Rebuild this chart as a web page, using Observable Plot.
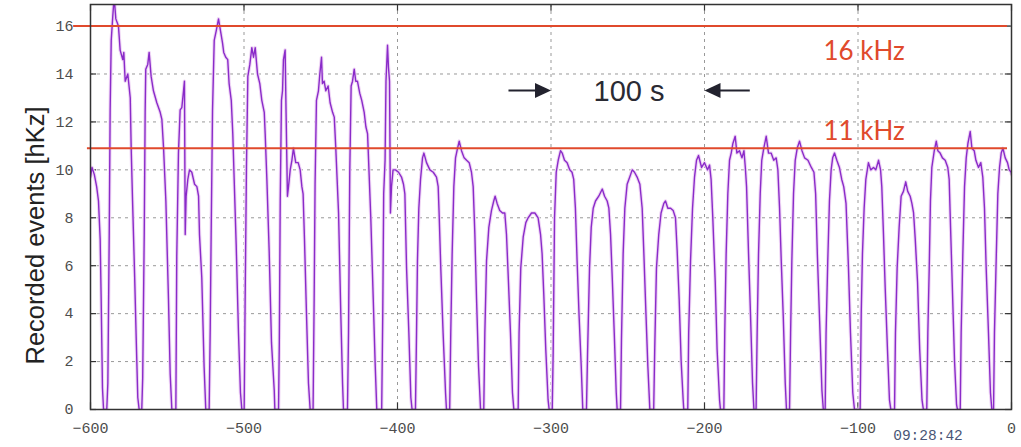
<!DOCTYPE html>
<html>
<head>
<meta charset="utf-8">
<script src="https://cdn.jsdelivr.net/npm/d3@7"></script>
<script src="https://cdn.jsdelivr.net/npm/@observablehq/plot@0.6"></script>
<style>
  html, body { margin: 0; padding: 0; background: #fff; }
  #chart svg { display: block; }
</style>
</head>
<body>
<div id="chart"></div>
<script>
// ---- Data ----
const xTicks = [-600, -500, -400, -300, -200, -100, 0];
const yTicks = [0, 2, 4, 6, 8, 10, 12, 14, 16];
const thresholds = [16, 10.9];
const thresholdLabels = ["16 kHz", "11 kHz"];
const spanLabel = "100 s";
const yLabel = "Recorded events [hKz]";
const timeStamp = "09:28:42";

// [seconds, rate (hKz)] vertices of the recorded trace
const trace = [
  [-600,9.7],[-599,10.1],[-597.5,9.8],[-596,9.3],[-594.8,8.7],[-593.7,7.1],[-593.1,4.8],[-592.2,0.9],[-591.5,0],
  [-589.4,0],[-588.7,1.1],[-587.8,7.3],[-587.2,12.5],[-586.5,15.4],[-585.5,16.4],[-584.6,17.2],[-583.5,16.3],[-581.8,16.0],[-580.7,15.0],[-579,14.6],[-578.3,14.9],[-577.4,13.7],[-575.7,14.0],[-574.1,13.0],[-573.5,10.9],[-572.6,8.7],[-571.3,5.7],[-570.2,2.9],[-569.2,0.5],[-568.3,0],
  [-566.6,0],[-566,1.3],[-565,7.3],[-564.4,12.4],[-564,14.2],[-562.7,14.4],[-561.8,14.9],[-560.5,13.9],[-559,13.3],[-556.8,12.8],[-554.6,12.4],[-553.5,12.1],[-552.4,10.9],[-550.9,8.7],[-549.2,4.6],[-548.1,1.5],[-547,0],
  [-544.4,0],[-543.8,6.4],[-542.7,10.7],[-541.6,12.5],[-540.5,12.6],[-539.4,13.3],[-538.8,13.7],[-538.3,7.3],[-537.7,8.9],[-536.6,9.6],[-535.5,10.0],[-534,9.9],[-532.2,9.4],[-530.7,9.3],[-529.6,8.9],[-529,7.3],[-527.5,5.5],[-526,1.8],[-524.9,0],
  [-522.7,0],[-522,3.4],[-521.4,7.3],[-520.5,12.5],[-519.4,15.4],[-518.1,15.8],[-516.6,16.3],[-515.3,15.8],[-514,15.3],[-513.2,14.9],[-511.9,14.7],[-510.6,14.6],[-509.7,13.6],[-508.3,12.9],[-507.3,11.5],[-506.4,9.6],[-505.1,6.9],[-503.6,3.2],[-502.3,0.7],[-501.4,0],
  [-499.9,0],[-499.3,4.3],[-498.4,10.1],[-497.5,13.9],[-496.2,14.4],[-494.9,15.1],[-493.8,14.7],[-492.7,15.1],[-491.2,14.0],[-489.7,13.6],[-488.4,12.9],[-486.8,12.4],[-486.2,11.5],[-485.1,9.6],[-483.6,6.6],[-482.1,2.8],[-480.3,0.8],[-479.9,0],
  [-477.5,0],[-477,2.8],[-476.4,8.7],[-475.6,12.9],[-474.9,13.3],[-474.3,14.6],[-473.2,15.0],[-472.6,12.4],[-471.7,8.9],[-471,9.3],[-469.9,10.0],[-468.8,10.4],[-467.8,10.9],[-466.3,10.3],[-464.7,10.3],[-463.4,10.0],[-462.3,9.3],[-461.5,9.0],[-460.6,7.1],[-459.3,4.0],[-458,1.1],[-456.9,0],
  [-455,0],[-454.3,4.6],[-453.7,9.4],[-452.8,12.9],[-451.5,13.3],[-450.6,14.0],[-449.5,14.7],[-448.9,13.6],[-447.8,13.7],[-446.7,13.3],[-445.2,13.5],[-443.9,12.8],[-442.3,12.4],[-441.2,12.2],[-440.2,10.9],[-438.4,8.2],[-436.9,3.9],[-435.8,1.1],[-435.2,0],
  [-432.6,0],[-431.9,3.2],[-431.1,9.9],[-430.2,13.5],[-429.3,13.7],[-428.2,14.2],[-427.2,13.7],[-426.1,13.7],[-424.6,13.2],[-423.3,12.9],[-421.7,12.4],[-420.6,11.8],[-419.5,11.5],[-418.9,10.5],[-417.4,8.0],[-415.8,4.6],[-414.5,1.8],[-413.5,0],
  [-410.3,0],[-409.6,4.0],[-409,9.0],[-408.1,10.4],[-407.5,13.7],[-406.5,15.2],[-405.9,14.3],[-405.2,13.7],[-404.6,8.2],[-403.9,9.3],[-402.9,10.0],[-401.3,10.0],[-399.3,9.9],[-397.4,9.7],[-396.1,9.4],[-395.2,9.0],[-394.1,5.9],[-392.6,3.2],[-391.3,0.5],[-390.5,0],
  [-388.3,0],[-387.6,3.2],[-387,6.2],[-386.1,8.4],[-385,9.6],[-383.7,10.5],[-382.8,10.7],[-381.1,10.3],[-378.9,10.0],[-376.7,9.9],[-374.6,9.7],[-373.5,9.3],[-372.9,8.2],[-371.8,5.9],[-370.3,3.2],[-368.7,0.7],[-368.1,0],
  [-366,0],[-365.3,3.2],[-364.4,6.5],[-363.3,9.3],[-362.2,10.5],[-360.9,10.9],[-359.8,11.2],[-358.3,10.8],[-356.6,10.5],[-355,10.4],[-353.3,10.3],[-351.8,9.9],[-350.7,9.3],[-349.6,7.3],[-348.5,4.6],[-347.2,1.8],[-345.9,0],
  [-343.8,0],[-343.1,3.2],[-342,6.2],[-340.5,7.6],[-338.8,8.3],[-337.3,8.7],[-336.4,8.9],[-335.1,8.6],[-333.4,8.3],[-331.6,8.2],[-330.1,8.2],[-329,7.3],[-327.7,5.3],[-326.4,3.2],[-325.1,0.7],[-324.2,0],
  [-321.4,0],[-320.8,3.2],[-319.7,5.9],[-318.1,7.2],[-316.4,7.8],[-314.9,8.0],[-312.7,8.2],[-310.5,8.2],[-308.4,8.0],[-306.8,7.3],[-305.8,6.5],[-304.7,4.8],[-303.4,2.5],[-301.9,0.4],[-301.2,0],
  [-299.2,0],[-298.6,2.3],[-297.7,8.0],[-296.6,9.9],[-295.3,10.4],[-293.8,10.8],[-292.7,10.7],[-291.2,10.4],[-289.5,10.3],[-287.8,10.0],[-286.3,9.9],[-285.2,9.6],[-284.1,8.4],[-283,6.2],[-281.7,3.9],[-280.3,1.8],[-279.3,0],
  [-276.9,0],[-276.2,2.3],[-274.9,5.9],[-273.8,7.6],[-272.5,8.4],[-271,8.7],[-268.9,8.9],[-266.6,9.2],[-265.1,8.9],[-263.4,8.7],[-262.3,8.4],[-261.2,7.3],[-260.1,5.5],[-258.8,3.2],[-257.5,0.7],[-256.9,0],
  [-254.7,0],[-254.1,2.9],[-253,6.5],[-251.9,8.4],[-250.4,9.4],[-248.7,9.7],[-247.1,10.0],[-245.6,9.9],[-243.9,9.7],[-242.1,9.4],[-240.6,8.4],[-239.5,6.5],[-238.2,4.1],[-236.9,1.8],[-235.6,0],
  [-233.1,0],[-232.4,2.6],[-231.3,5.9],[-229.8,7.3],[-228.3,8.2],[-226.5,8.6],[-225.4,8.7],[-223.9,8.4],[-222.1,8.4],[-220.4,8.3],[-218.9,8.0],[-217.8,6.6],[-216.5,4.6],[-215.2,2.0],[-213.9,0.4],[-213.5,0],
  [-210.9,0],[-210.3,3.2],[-209.1,6.2],[-207.8,8.4],[-206.5,9.7],[-205.2,10.4],[-203.9,10.6],[-201.9,10.1],[-200,10.3],[-198,10.0],[-196.7,10.2],[-195.7,9.6],[-194.6,8.0],[-193,5.3],[-191.8,2.5],[-190.2,0.4],[-189.6,0],
  [-187.4,0],[-186.8,3.2],[-185.9,6.5],[-184.8,9.0],[-183.7,10.4],[-182.6,10.7],[-181.5,11.1],[-180,11.4],[-178.9,10.7],[-177.2,10.8],[-175.6,10.5],[-174.3,10.8],[-173.4,10.1],[-172.6,9.3],[-171.3,6.5],[-170,3.9],[-168.7,1.1],[-167.8,0],
  [-166.4,0],[-165.7,3.2],[-164.8,6.5],[-163.7,9.0],[-162.7,10.4],[-161.4,10.9],[-159.8,11.4],[-158.3,10.7],[-156.6,10.7],[-154.9,10.4],[-153.3,10.5],[-152.2,10.0],[-151.1,8.4],[-150,6.2],[-148.7,3.9],[-147.4,1.1],[-146.6,0],
  [-144.6,0],[-143.9,3.2],[-143.1,6.2],[-142,9.0],[-140.9,10.4],[-139.6,10.9],[-138.1,11.2],[-136.5,10.8],[-134.8,10.5],[-132.6,10.4],[-130.4,10.1],[-128.7,9.9],[-127.6,9.0],[-126.5,6.5],[-125,3.7],[-123.5,0.8],[-122.6,0],
  [-121.4,0],[-120.8,3.2],[-119.7,6.2],[-118.6,8.7],[-117.5,10.0],[-116.5,10.5],[-115.3,10.7],[-113.8,10.4],[-112.1,10.1],[-110.6,9.6],[-109.3,9.3],[-107.8,8.6],[-106.2,5.9],[-104.9,3.2],[-103.4,0.7],[-102.3,0],
  [-98.6,0],[-97.9,4.0],[-97.1,6.5],[-96,8.4],[-94.9,9.6],[-93.2,10.3],[-91.7,10.0],[-89.9,10.1],[-88.4,10.0],[-86.6,10.4],[-85.3,10.0],[-84.5,9.3],[-83.4,7.3],[-82.3,5.1],[-80.8,2.5],[-79.5,0.4],[-78.6,0],
  [-76.2,0],[-75.6,3.2],[-74.5,5.9],[-73.2,7.6],[-71.9,8.9],[-70.4,9.1],[-68.9,9.5],[-67.6,9.1],[-66,8.9],[-64.9,8.6],[-63.8,8.2],[-62.7,7.1],[-61.2,5.3],[-59.8,2.5],[-58.3,0.4],[-57.4,0],
  [-55.2,0],[-54.5,3.2],[-53.6,5.9],[-52.8,8.7],[-51.9,10.1],[-50.3,10.8],[-49,11.2],[-48,10.8],[-46.5,10.7],[-45,10.5],[-43.2,10.4],[-41.5,10.1],[-40.6,9.6],[-39.7,7.6],[-38.4,4.8],[-37.1,2.0],[-35.8,0.2],[-35.2,0],
  [-33.4,0],[-32.8,3.2],[-31.7,6.5],[-30.6,9.3],[-29.5,10.5],[-28.4,11.1],[-26.9,11.6],[-25.8,10.9],[-24.3,10.8],[-23.2,10.4],[-21.5,10.1],[-20,10.3],[-18.7,9.7],[-17.6,8.4],[-16.5,5.9],[-15,3.2],[-13.7,0.7],[-12.8,0],
  [-11.7,0],[-11.1,3.2],[-10,6.2],[-8.9,9.0],[-7.8,10.1],[-6.7,10.7],[-5.6,10.9],[-4.1,10.5],[-2.6,10.3],[-1.5,10.0],[-0.2,9.9],[0,9.8]
];

// ---- Drawing ----
const yMax = 16.9;
const monoFont = "'Liberation Mono', 'DejaVu Sans Mono', monospace";
const gridStyle = {stroke: "#999", strokeOpacity: 1, strokeDasharray: "3,4", strokeWidth: 1};

const triRight = {draw(ctx) { ctx.moveTo(0, 0); ctx.lineTo(-16, -7.5); ctx.lineTo(-16, 7.5); ctx.closePath(); }};
const triLeft  = {draw(ctx) { ctx.moveTo(0, 0); ctx.lineTo(16, -7.5); ctx.lineTo(16, 7.5); ctx.closePath(); }};

const chart = Plot.plot({
  width: 1021,
  height: 447,
  marginLeft: 90,
  marginRight: 10,
  marginTop: 4,
  marginBottom: 38,
  style: {background: "#fff", overflow: "visible"},
  x: {domain: [-600, 0]},
  y: {domain: [0, yMax]},
  marks: [
    Plot.gridX(xTicks.filter(v => v > -600 && v < 0), gridStyle),
    Plot.gridY(yTicks.filter(v => v > 0), gridStyle),
    // inner tick marks on all four sides
    Plot.ruleX(xTicks, {y1: 0, y2: 0.28, stroke: "#333", strokeWidth: 1.2}),
    Plot.ruleX(xTicks, {y1: yMax - 0.28, y2: yMax, stroke: "#333", strokeWidth: 1.2}),
    Plot.ruleY(yTicks, {x1: -600, x2: -596, stroke: "#333", strokeWidth: 1.2}),
    Plot.ruleY(yTicks, {x1: -4, x2: 0, stroke: "#333", strokeWidth: 1.2}),
    Plot.axisX(xTicks, {tickSize: 0, tickPadding: 13, fontSize: 15, fontFamily: monoFont, fill: "#4d4d4d", label: null}),
    Plot.axisY(yTicks, {tickSize: 0, tickPadding: 17, fontSize: 15, fontFamily: monoFont, fill: "#4d4d4d", label: null}),
    // trace with faint halo
    Plot.line(trace, {x: d => d[0], y: d => d[1], stroke: "#efd6f5", strokeWidth: 3.5, clip: true}),
    Plot.line(trace, {x: d => d[0], y: d => d[1], stroke: "#8a2bc9", strokeWidth: 1.4, clip: true}),
    // threshold lines
    Plot.ruleY([thresholds[0]], {x1: -611, x2: -2.6, stroke: "#e04a2c", strokeWidth: 2}),
    Plot.ruleY([thresholds[1]], {x1: -602, x2: -2.6, stroke: "#e04a2c", strokeWidth: 2}),
    Plot.text(thresholdLabels, {x: [-122.5, -122.5], y: [14.94, 11.6], text: d => d, textAnchor: "start",
      fontSize: 26, fontFamily: "Lato, 'Open Sans', sans-serif", fill: "#e04a2c"}),
    // 100 s marker
    Plot.link([0], {x1: [-327.7], x2: [-306], y1: [13.31], y2: [13.31], stroke: "#22222e", strokeWidth: 2}),
    Plot.link([0], {x1: [-170.5], x2: [-194], y1: [13.31], y2: [13.31], stroke: "#22222e", strokeWidth: 2}),
    Plot.dot([0], {x: [-300], y: [13.31], symbol: triRight, fill: "#22222e", stroke: "none"}),
    Plot.dot([0], {x: [-200], y: [13.31], symbol: triLeft, fill: "#22222e", stroke: "none"}),
    Plot.text([spanLabel], {x: [-272.3], y: [13.27], text: d => d, textAnchor: "start",
      fontSize: 29, fontFamily: "'Liberation Sans', Arial, sans-serif", fill: "#2a2a33"}),
    // y axis title
    Plot.text([yLabel], {frameAnchor: "left", text: d => d, rotate: -90, dx: -55, dy: 28.5, textAnchor: "middle",
      fontSize: 25.5, fontFamily: "'Liberation Sans', Arial, sans-serif", fill: "#222"}),
    // timestamp
    Plot.text([timeStamp], {x: [-54.4], frameAnchor: "bottom", dy: 30, text: d => d,
      fontSize: 14.5, fontFamily: monoFont, fill: "#4a5676"}),
    Plot.frame({stroke: "#333", strokeWidth: 1.5})
  ]
});
document.getElementById("chart").appendChild(chart);
</script>
</body>
</html>
